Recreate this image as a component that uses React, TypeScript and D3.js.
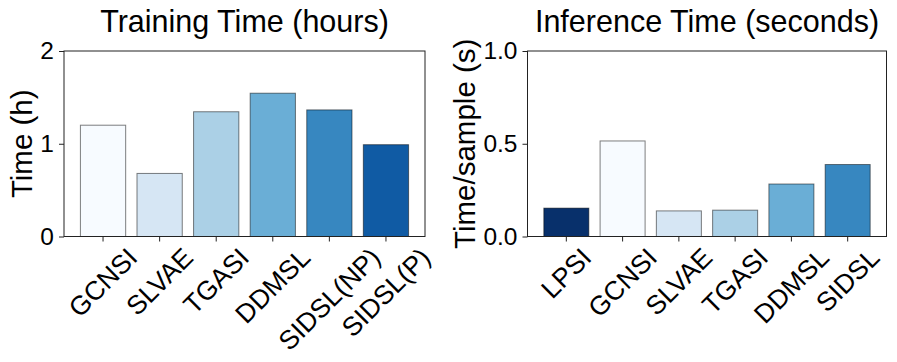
import React, { useEffect, useRef } from "react";
import * as d3 from "d3";

// training time (hours)
const trainMethods = ["GCNSI", "SLVAE", "TGASI", "DDMSL", "SIDSL(NP)", "SIDSL(P)"];
const trainHours = [1.2, 0.68, 1.345, 1.545, 1.365, 0.99];
const trainTicks = [0, 1, 2];

// inference time (seconds per sample)
const inferMethods = ["LPSI", "GCNSI", "SLVAE", "TGASI", "DDMSL", "SIDSL"];
const inferSeconds = [0.153, 0.515, 0.138, 0.142, 0.283, 0.388];
const inferTicks = [0, 0.5, 1.0];

const trainColors = ["#f7fbff", "#d6e6f4", "#abd0e6", "#6aaed6", "#3787c0", "#105ba4"];
const inferColors = ["#08306b", "#f7fbff", "#d6e6f4", "#abd0e6", "#6aaed6", "#3787c0"];

const W = 897;
const H = 362;
const FONT = "'Liberation Sans', Arial, sans-serif";

const drawPanel = (svg, opts) => {
  const { left, right, top, bottom, cats, vals, colors, yMax, ticks, fmt, title, ylabel, ylabelX } = opts;

  const x = d3
    .scaleBand()
    .domain(cats)
    .range([left, right])
    .paddingInner(0.2)
    .paddingOuter(0.29);

  const y = d3.scaleLinear().domain([0, yMax]).range([bottom, top]);

  const g = svg.append("g");

  // bars
  g.selectAll(".bar")
    .data(vals)
    .enter()
    .append("rect")
    .attr("class", "bar")
    .attr("x", (d, i) => x(cats[i]))
    .attr("y", (d) => y(d))
    .attr("width", x.bandwidth())
    .attr("height", (d) => y(0) - y(d))
    .style("fill", (d, i) => colors[i])
    .style("stroke", "#000")
    .style("stroke-opacity", 0.5)
    .style("stroke-width", 1);

  // frame
  g.append("rect")
    .attr("x", left)
    .attr("y", top)
    .attr("width", right - left)
    .attr("height", bottom - top)
    .style("fill", "none")
    .style("stroke", "#222")
    .style("stroke-width", 1);

  // y axis
  const yAxis = d3
    .axisLeft(y)
    .tickValues(ticks)
    .tickFormat(fmt)
    .tickSize(5)
    .tickPadding(5)
    .tickSizeOuter(0);

  const yg = g.append("g").attr("transform", `translate(${left},0)`).call(yAxis);
  yg.select(".domain").remove();
  yg.selectAll("line").style("stroke", "#222");
  yg.selectAll("text")
    .style("font-family", FONT)
    .style("font-size", "24.5px")
    .style("fill", "#000");

  // x axis ticks only
  const xAxis = d3.axisBottom(x).tickFormat(() => "").tickSize(5).tickSizeOuter(0);
  const xg = g.append("g").attr("transform", `translate(0,${bottom})`).call(xAxis);
  xg.select(".domain").remove();
  xg.selectAll("line").style("stroke", "#222");

  // rotated x labels, bbox centred on the tick
  const labelTop = bottom + 8;
  const fs = 26.5;
  cats.forEach((c) => {
    const cx = x(c) + x.bandwidth() / 2;
    const t = g
      .append("text")
      .attr("text-anchor", "middle")
      .attr("dominant-baseline", "central")
      .style("font-family", FONT)
      .style("font-size", `${fs}px`)
      .text(c);
    const len = t.node().getComputedTextLength();
    const cy = labelTop + (len + fs * 0.9) * Math.SQRT1_2 / 2;
    t.attr("x", cx).attr("y", cy).attr("transform", `rotate(-45 ${cx},${cy})`);
  });

  // title
  g.append("text")
    .attr("x", (left + right) / 2)
    .attr("y", 32)
    .attr("text-anchor", "middle")
    .style("font-family", FONT)
    .style("font-size", "30.5px")
    .text(title);

  // y label
  const cyl = (top + bottom) / 2;
  g.append("text")
    .attr("x", ylabelX)
    .attr("y", cyl)
    .attr("text-anchor", "middle")
    .attr("dominant-baseline", "central")
    .attr("transform", `rotate(-90 ${ylabelX},${cyl})`)
    .style("font-family", FONT)
    .style("font-size", "29.5px")
    .text(ylabel);
};

const App = () => {
  const ref = useRef(null);

  useEffect(() => {
    const svg = d3.select(ref.current);
    svg.selectAll("*").remove();

    drawPanel(svg, {
      left: 64,
      right: 425,
      top: 51,
      bottom: 236.5,
      cats: trainMethods,
      vals: trainHours,
      colors: trainColors,
      yMax: 2,
      ticks: trainTicks,
      fmt: d3.format("d"),
      title: "Training Time (hours)",
      ylabel: "Time (h)",
      ylabelX: 21,
    });

    drawPanel(svg, {
      left: 527.5,
      right: 886.5,
      top: 51,
      bottom: 236.5,
      cats: inferMethods,
      vals: inferSeconds,
      colors: inferColors,
      yMax: 1,
      ticks: inferTicks,
      fmt: d3.format(".1f"),
      title: "Inference Time (seconds)",
      ylabel: "Time/sample (s)",
      ylabelX: 464,
    });
  }, []);

  return (
    <svg
      ref={ref}
      width={W}
      height={H}
      style={{ position: "absolute", left: 0, top: 0, background: "#fff" }}
    />
  );
};

export default App;
